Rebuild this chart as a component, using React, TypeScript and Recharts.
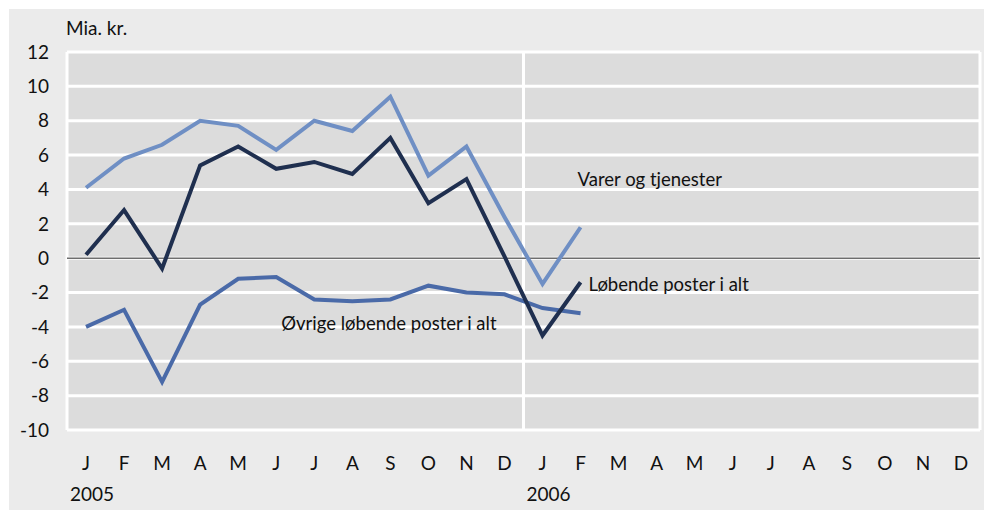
import React from "react";
import {
  LineChart,
  Line,
  XAxis,
  YAxis,
  CartesianGrid,
  ReferenceLine,
  ReferenceDot,
} from "recharts";

const MONTHS = ["J", "F", "M", "A", "M", "J", "J", "A", "S", "O", "N", "D", "J", "F", "M", "A", "M", "J", "J", "A", "S", "O", "N", "D"];
const YEARS: Record<number, string> = { 0: "2005", 12: "2006" };
const Y_TICKS = [-10, -8, -6, -4, -2, 0, 2, 4, 6, 8, 10, 12];

// Jan 2005 - Feb 2006, mia. kr.
const varer = [4.1, 5.8, 6.6, 8.0, 7.7, 6.3, 8.0, 7.4, 9.4, 4.8, 6.5, 2.4, -1.5, 1.8];
const lobende = [0.2, 2.8, -0.6, 5.4, 6.5, 5.2, 5.6, 4.9, 7.0, 3.2, 4.6, 0.1, -4.5, -1.4];
const ovrige = [-4.0, -3.0, -7.2, -2.7, -1.2, -1.1, -2.4, -2.5, -2.4, -1.6, -2.0, -2.1, -2.9, -3.2];

const data = varer.map((v, i) => ({ i, varer: v, lobende: lobende[i], ovrige: ovrige[i] }));

const FONT = "Lato, 'DejaVu Sans', sans-serif";
const TXT = "#111";

const C_VARER = "#6f8fc4";
const C_LOBENDE = "#1f2f4f";
const C_OVRIGE = "#4a6aa8";

function MonthTick(props: any) {
  const { x, y, payload } = props;
  const idx = payload.value as number;
  return (
    <g>
      <text x={x} y={y + 32} textAnchor="middle" fontSize={19} fill={TXT} fontFamily={FONT}>
        {MONTHS[idx]}
      </text>
      {YEARS[idx] && (
        <text x={x - 16} y={y + 63} textAnchor="start" fontSize={19} fill={TXT} fontFamily={FONT}>
          {YEARS[idx]}
        </text>
      )}
    </g>
  );
}

const lineLabel = (value: string) => ({
  value,
  position: "right" as const,
  fontSize: 18.5,
  fill: TXT,
  fontFamily: FONT,
});

export default function App() {
  return (
    <div style={{ position: "absolute", left: 0, top: 0, width: 984, height: 511, background: "#fff" }}>
      <div style={{ position: "absolute", left: 9, top: 9, width: 975, height: 501, background: "#ebebeb" }}>
        <div
          style={{
            position: "absolute",
            left: 57,
            top: 7,
            fontSize: 19,
            fontFamily: FONT,
            color: TXT,
          }}
        >
          Mia. kr.
        </div>
        <LineChart width={975} height={501} data={data} margin={{ top: 43, right: 4, left: 0, bottom: 0 }}>
          <CartesianGrid vertical={false} stroke="#fff" strokeWidth={3} fill="#dcdcdc" fillOpacity={1} />
          <XAxis
            dataKey="i"
            type="number"
            domain={[-0.5, 23.5]}
            ticks={MONTHS.map((_, k) => k)}
            interval={0}
            tick={<MonthTick />}
            axisLine={false}
            tickLine={false}
            height={80}
          />
          <YAxis
            type="number"
            domain={[-10, 12]}
            ticks={Y_TICKS}
            interval={0}
            width={58}
            axisLine={false}
            tickLine={false}
            tick={{ fontSize: 19, fill: TXT, fontFamily: FONT, dx: -10 }}
          />
          <ReferenceLine x={-0.5} stroke="#fff" strokeWidth={3} />
          <ReferenceLine x={11.5} stroke="#fff" strokeWidth={3} />
          <ReferenceLine x={23.5} stroke="#fff" strokeWidth={3} />
          <ReferenceLine y={0} stroke="#6e6e6e" strokeWidth={1.5} />
          <Line dataKey="varer" stroke={C_VARER} strokeWidth={4} dot={false} isAnimationActive={false} />
          <Line dataKey="ovrige" stroke={C_OVRIGE} strokeWidth={4} dot={false} isAnimationActive={false} />
          <Line dataKey="lobende" stroke={C_LOBENDE} strokeWidth={4} dot={false} isAnimationActive={false} />
          <ReferenceDot x={13} y={4.6} r={0} stroke="none" label={{ ...lineLabel("Varer og tjenester"), offset: -3 }} />
          <ReferenceDot x={13} y={-1.5} r={0} stroke="none" label={{ ...lineLabel("Løbende poster i alt"), offset: 8 }} />
          <ReferenceDot x={5} y={-3.8} r={0} stroke="none" label={{ ...lineLabel("Øvrige løbende poster i alt"), offset: 5 }} />
        </LineChart>
      </div>
    </div>
  );
}
